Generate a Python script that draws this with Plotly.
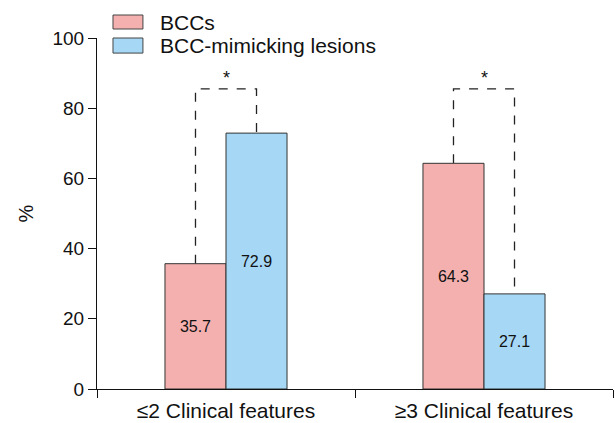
import plotly.graph_objects as go

categories = ["≤2 Clinical features", "≥3 Clinical features"]
bcc_values = [35.7, 64.3]
mimic_values = [72.9, 27.1]
series_names = ["BCCs", "BCC-mimicking lesions"]
y_ticks = [0, 20, 40, 60, 80, 100]
bracket_level = 85.5
star_level = 88.6

red = "#F4B0AE"
blue = "#A6D8F5"
edge = "#333333"
font_family = "Liberation Sans, Arial, sans-serif"

fig = go.Figure()
fig.add_trace(go.Bar(
    x=categories, y=bcc_values, name=series_names[0], showlegend=False,
    marker=dict(color=red, line=dict(color=edge, width=1)),
    text=[f"{v:.1f}" for v in bcc_values], textposition="inside",
    insidetextanchor="middle", textfont=dict(size=16, color="#111111"),
))
fig.add_trace(go.Bar(
    x=categories, y=mimic_values, name=series_names[1], showlegend=False,
    marker=dict(color=blue, line=dict(color=edge, width=1)),
    text=[f"{v:.1f}" for v in mimic_values], textposition="inside",
    insidetextanchor="middle", textfont=dict(size=16, color="#111111"),
))

bargap = 0.527
half = (1 - bargap) / 4  # center offset of each bar within group
for i in range(len(categories)):
    x0 = i - half
    x1 = i + half
    fig.add_shape(type="path",
                  path=f"M {x0} {bcc_values[i]} L {x0} {bracket_level} L {x1} {bracket_level} L {x1} {mimic_values[i]}",
                  line=dict(color="#222222", width=1.3, dash="dash"),
                  xref="x", yref="y", layer="below")
    fig.add_annotation(x=i, y=star_level, text="*", showarrow=False,
                       font=dict(size=18, color="#111111", family=font_family),
                       xref="x", yref="y")

# custom legend (swatch + label) above the plot
legend_colors = [red, blue]
legend_rows = [(1.0655, 1.0256, 1.044), (1.0, 0.957, 0.978)]
for name, col, (top, bot, mid) in zip(series_names, legend_colors, legend_rows):
    fig.add_shape(type="rect", xref="paper", yref="paper",
                  x0=0.031, x1=0.089, y0=bot, y1=top,
                  fillcolor=col, line=dict(color="#444444", width=1))
    fig.add_annotation(xref="paper", yref="paper", x=0.118, y=mid,
                       xanchor="left", yanchor="middle", text=name,
                       showarrow=False,
                       font=dict(size=21, color="#111111", family=font_family))

fig.update_layout(
    width=615, height=423,
    margin=dict(l=97, r=2, t=38, b=34),
    barmode="group", bargap=bargap, bargroupgap=0,
    plot_bgcolor="white", paper_bgcolor="white",
    font=dict(family=font_family, size=19, color="#111111"),
    showlegend=False,
)
fig.update_xaxes(
    showline=True, linecolor="#111111", linewidth=1.2, automargin=False,
    ticks="outside", tickson="boundaries", ticklen=8, tickcolor="#111111",
    range=[-0.5, 1.5], tickfont=dict(size=21), ticklabelstandoff=3,
)
fig.update_yaxes(
    range=[0, 100], tickvals=y_ticks, showline=True, linecolor="#111111",
    linewidth=1.2, ticks="outside", ticklen=8, tickcolor="#111111",
    showgrid=False, zeroline=False, tickfont=dict(size=19), automargin=False,
    title=dict(text="%", font=dict(size=20), standoff=13),
)

fig.write_html("out.html", config={"displayModeBar": False},
               post_script="document.body.style.margin='0';document.body.style.overflow='hidden';")
